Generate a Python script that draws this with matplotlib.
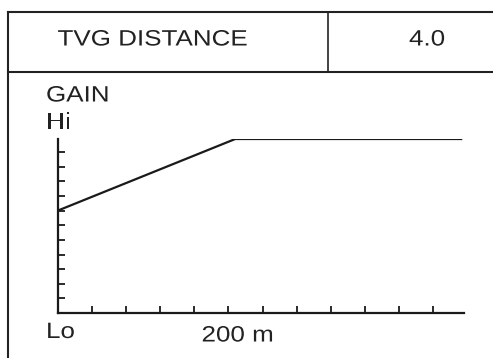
import matplotlib
matplotlib.use('Agg')
import matplotlib.pyplot as plt
from matplotlib.patheffects import AbstractPathEffect
from matplotlib.transforms import Affine2D

plt.rcParams['font.family'] = ['Liberation Sans', 'DejaVu Sans']

# TVG curve (distance ticks / gain ticks)
dist = [0, 5.2, 11.85]
gain = [7, 11.9, 11.9]
x_ticks = list(range(1, 12))
y_ticks = list(range(1, 12))
header_label = 'TVG DISTANCE'
header_value = '4.0'

TXT_COLOR = '#222222'


class HStretch(AbstractPathEffect):
    # reference lettering is wider than Arial, stretch glyphs sideways
    def __init__(self, sx):
        super().__init__()
        self.sx = sx

    def draw_path(self, renderer, gc, tpath, affine, rgbFace=None):
        renderer.draw_path(gc, tpath, Affine2D().scale(self.sx, 1) + affine, rgbFace)


W, H = 493, 358
fig = plt.figure(figsize=(W / 100, H / 100), dpi=100)

# frame / header table in pixel coords
bg = fig.add_axes([0, 0, 1, 1])
bg.set_xlim(0, W)
bg.set_ylim(H, 0)
bg.axis('off')
lc = '#222222'
bg.plot([8, 8], [12, H], color=lc, lw=1.5)
bg.plot([8, W], [12, 12], color=lc, lw=1.5)
bg.plot([8, W], [72, 72], color=lc, lw=1.5)
bg.plot([328, 328], [12, 72], color=lc, lw=1.2)

txt = dict(fontsize=16, ha='left', va='baseline', color=TXT_COLOR,
           path_effects=[HStretch(1.17)])
bg.text(57.5, 45.5, header_label, **txt)
bg.text(409, 45.5, header_value, **txt)
bg.text(46, 101.5, 'GAIN', **txt)
bg.text(46, 128.5, 'Hi', **txt)
bg.text(46, 338, 'Lo', **txt)
bg.text(201.5, 341.5, '200 m', **txt)

# gain graph
ax = fig.add_axes([57.7 / W, 1 - 313 / H, (464 - 57.7) / W, (313 - 139) / H])
ax.patch.set_alpha(0)
ax.plot(dist, gain, color='#1a1a1a', lw=1.6, solid_capstyle='butt')
ax.set_xlim(0, 11.9)
ax.set_ylim(0, 11.9)
ax.spines['top'].set_visible(False)
ax.spines['right'].set_visible(False)
for s in ['left', 'bottom']:
    ax.spines[s].set_linewidth(1.6)
    ax.spines[s].set_color('#1a1a1a')
ax.set_xticks(x_ticks)
ax.set_yticks(y_ticks)
ax.set_xticklabels([])
ax.set_yticklabels([])
ax.tick_params(direction='in', length=5, width=1.3, color='#1a1a1a')

fig.savefig('out.png', dpi=100)
